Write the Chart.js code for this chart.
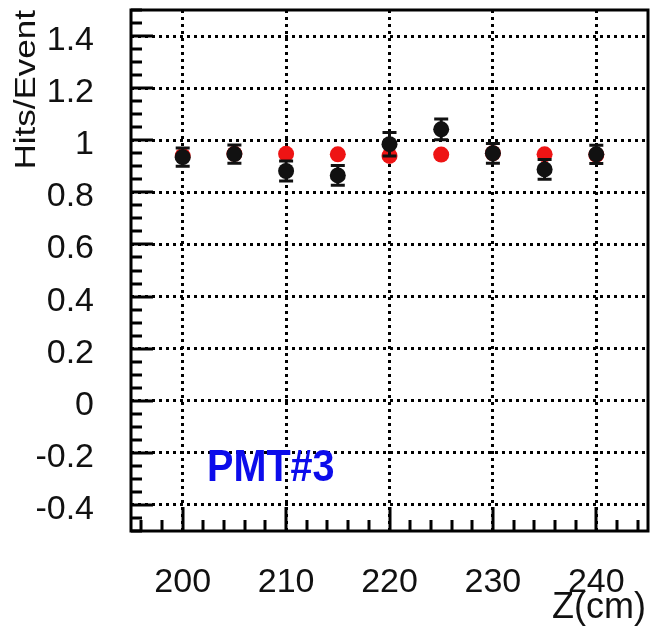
<!DOCTYPE html>
<html>
<head>
<meta charset="utf-8">
<script src="https://cdn.jsdelivr.net/npm/chart.js@4/dist/chart.umd.min.js"></script>
<style>
  html, body { margin: 0; padding: 0; background: #fff; }
  canvas { display: block; }
</style>
</head>
<body>
<canvas id="hitsChart" width="650" height="628"></canvas>
<script>
// Z positions (cm) and hits per event
const zValues = [200, 205, 210, 215, 220, 225, 230, 235, 240];
const hitsData = [0.935, 0.947, 0.882, 0.865, 0.985, 1.042, 0.950, 0.888, 0.946];
const hitsErr = [0.035, 0.035, 0.038, 0.038, 0.045, 0.040, 0.038, 0.038, 0.035];
const hitsSim = [0.940, 0.948, 0.948, 0.946, 0.940, 0.945, 0.950, 0.946, 0.944];

const xTickValues = [200, 210, 220, 230, 240];
const yTickValues = [-0.4, -0.2, 0, 0.2, 0.4, 0.6, 0.8, 1, 1.2, 1.4];

const FONT = '"Liberation Sans", Arial, Helvetica, sans-serif';

// error bars for the measured points, drawn just before their markers
const errorBars = {
  id: 'errorBars',
  beforeDatasetDraw(chart, args) {
    if (args.index !== 0) return;
    const ctx = chart.ctx;
    const xs = chart.scales.x, ys = chart.scales.y;
    ctx.save();
    ctx.strokeStyle = '#111';
    ctx.lineWidth = 3;
    zValues.forEach((z, i) => {
      const px = xs.getPixelForValue(z);
      const top = ys.getPixelForValue(hitsData[i] + hitsErr[i]);
      const bot = ys.getPixelForValue(hitsData[i] - hitsErr[i]);
      ctx.beginPath();
      ctx.moveTo(px, top); ctx.lineTo(px, bot);
      ctx.moveTo(px - 7, top); ctx.lineTo(px + 7, top);
      ctx.moveTo(px - 7, bot); ctx.lineTo(px + 7, bot);
      ctx.stroke();
    });
    ctx.restore();
  }
};

// frame, inner ticks and all the text
const frameAndText = {
  id: 'frameAndText',
  afterDraw(chart) {
    const ctx = chart.ctx;
    const a = chart.chartArea;
    const xs = chart.scales.x, ys = chart.scales.y;
    ctx.save();
    ctx.strokeStyle = '#000';

    // inner ticks
    ctx.lineWidth = 3;
    ctx.beginPath();
    for (let v = -0.5; v <= 1.5001; v += 0.05) {
      const py = Math.round(ys.getPixelForValue(v));
      const major = Math.abs(v * 5 - Math.round(v * 5)) < 1e-6;
      ctx.moveTo(a.left, py);
      ctx.lineTo(a.left + (major ? 22 : 11), py);
    }
    for (let v = 196; v <= 244; v += 2) {
      const px = Math.round(xs.getPixelForValue(v));
      const major = v % 10 === 0;
      ctx.moveTo(px, a.bottom);
      ctx.lineTo(px, a.bottom - (major ? 24 : 11));
    }
    ctx.stroke();

    // frame
    ctx.lineWidth = 3;
    ctx.strokeRect(a.left, a.top, a.right - a.left, a.bottom - a.top);

    // y tick labels
    ctx.fillStyle = '#111';
    ctx.font = '34px ' + FONT;
    ctx.textAlign = 'right';
    ctx.textBaseline = 'alphabetic';
    yTickValues.forEach(v => {
      const py = ys.getPixelForValue(v);
      ctx.fillText(String(v), 94, py + 14);
    });

    // x tick labels
    ctx.textAlign = 'center';
    xTickValues.forEach(v => {
      const px = xs.getPixelForValue(v);
      ctx.fillText(String(v), px, 592);
    });

    // x axis title
    ctx.save();
    ctx.font = '36px ' + FONT;
    ctx.textAlign = 'right';
    ctx.fillText('Z(cm)', 646, 618);
    ctx.restore();

    // y axis title, rotated, aligned to the top
    ctx.save();
    ctx.font = '35px ' + FONT;
    ctx.textAlign = 'right';
    ctx.translate(35, 10);
    ctx.rotate(-Math.PI / 2);
    ctx.scale(1, 0.82);
    ctx.fillText('Hits/Event', 0, 0);
    ctx.restore();

    // label
    ctx.save();
    ctx.fillStyle = 'rgb(12, 12, 235)';
    ctx.font = 'bold 44px ' + FONT;
    ctx.textAlign = 'left';
    ctx.translate(a.left + 76, 481);
    ctx.scale(0.9, 1);
    ctx.fillText('PMT#3', 0, 0);
    ctx.restore();

    ctx.restore();
  }
};

const whiteBg = {
  id: 'whiteBg',
  beforeDraw(chart) {
    const ctx = chart.ctx;
    ctx.save();
    ctx.fillStyle = '#fff';
    ctx.fillRect(0, 0, chart.width, chart.height);
    ctx.restore();
  }
};

new Chart(document.getElementById('hitsChart'), {
  type: 'scatter',
  data: {
    datasets: [
      {
        label: 'data',
        data: zValues.map((z, i) => ({ x: z, y: hitsData[i] })),
        backgroundColor: '#111',
        borderColor: '#111',
        pointRadius: 8,
        pointBorderWidth: 0
      },
      {
        label: 'sim',
        data: zValues.map((z, i) => ({ x: z, y: hitsSim[i] })),
        backgroundColor: 'rgb(238, 20, 20)',
        borderColor: 'rgb(238, 20, 20)',
        pointRadius: 8,
        pointBorderWidth: 0
      }
    ]
  },
  options: {
    responsive: false,
    animation: false,
    events: [],
    layout: { autoPadding: false, padding: { left: 0, top: 10, right: 2, bottom: 0 } },
    plugins: { legend: { display: false }, tooltip: { enabled: false } },
    scales: {
      x: {
        type: 'linear',
        min: 195,
        max: 245,
        afterBuildTicks: (scale) => { scale.ticks = xTickValues.map(v => ({ value: v })); },
        afterFit: (scale) => { scale.height = 97; },
        ticks: { display: false },
        grid: { color: '#000', lineWidth: 3, drawTicks: false },
        border: { display: false, dash: [3, 4] }
      },
      y: {
        type: 'linear',
        min: -0.5,
        max: 1.5,
        afterBuildTicks: (scale) => { scale.ticks = yTickValues.map(v => ({ value: v })); },
        afterFit: (scale) => { scale.width = 131; },
        ticks: { display: false },
        grid: { color: '#000', lineWidth: 3, drawTicks: false },
        border: { display: false, dash: [3, 4] }
      }
    }
  },
  plugins: [whiteBg, errorBars, frameAndText]
});
</script>
</body>
</html>
